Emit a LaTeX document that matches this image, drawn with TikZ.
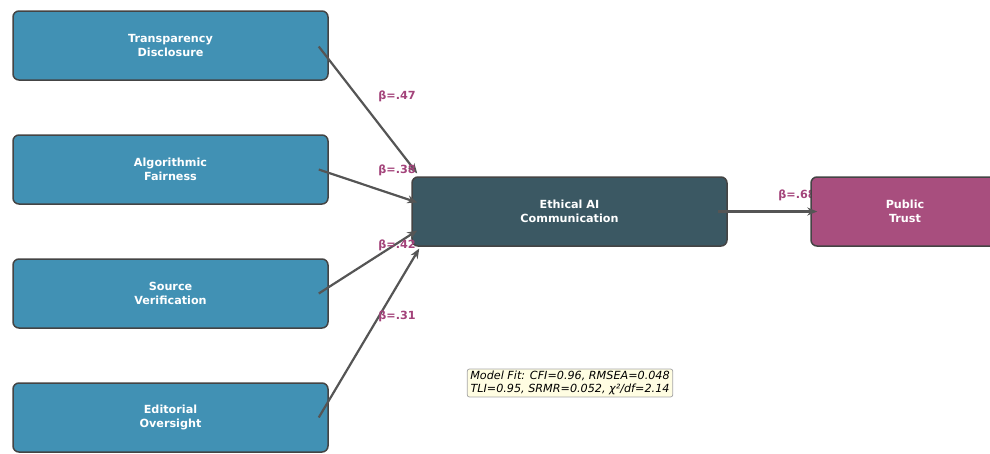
\documentclass[tikz,border=0pt]{standalone}
\usepackage{fontspec}
\setmainfont{DejaVu Sans}
\usetikzlibrary{calc,arrows.meta}
\definecolor{cblue}{HTML}{4191B4}
\definecolor{cdark}{HTML}{3B5863}
\definecolor{cmag}{HTML}{A84E7E}
\definecolor{clab}{HTML}{A3437A}
\definecolor{cedge}{HTML}{444444}
\definecolor{carrow}{HTML}{555555}
\definecolor{cfit}{HTML}{FFFDE2}
\tikzset{
  box/.style={draw=cedge, line width=1.5pt, rounded corners=6pt, minimum width=315pt, minimum height=69pt,
    align=center, text=white, font=\bfseries\fontsize{11.2}{14}\selectfont, inner sep=0pt},
  lab/.style={text=clab, font=\bfseries\fontsize{11.2}{12}\selectfont, inner sep=0pt},
  link/.style={draw=carrow, line width=2.2pt, -{Stealth[length=10pt,width=8pt]}},
  fit/.style={draw=gray!70, fill=cfit, rounded corners=2pt, line width=0.8pt, align=center,
    font=\itshape\fontsize{11.2}{13}\selectfont, inner xsep=3pt, inner ysep=2pt}
}
\begin{document}
\begin{tikzpicture}[x=1pt,y=-1pt]
\useasboundingbox (0,0) rectangle (990,453);
\node[box, fill=cblue] (td) at (170.5,45.5) {Transparency\\Disclosure};
\node[box, fill=cblue] (af) at (170.5,169.5) {Algorithmic\\Fairness};
\node[box, fill=cblue] (sv) at (170.5,293.5) {Source\\Verification};
\node[box, fill=cblue] (eo) at (170.5,417.5) {Editorial\\Oversight};
\node[box, fill=cdark] (eac) at (569.5,211.5) {Ethical AI\\Communication};
\node[lab] (l5) at (797,195) {β=.68};
\node[box, fill=cmag, minimum width=188pt] (pt) at (905,211.5) {Public\\Trust};
\coordinate (s1) at ($(td.east)+(-10,1)$);
\coordinate (s2) at ($(af.east)+(-10,0)$);
\coordinate (s3) at ($(sv.east)+(-10,0)$);
\coordinate (s4) at ($(eo.east)+(-10,0)$);
\coordinate (e1) at ($(eac.west)+(6,-38)$);
\coordinate (e2) at ($(eac.west)+(6,-9)$);
\coordinate (e3) at ($(eac.west)+(6,19)$);
\coordinate (e4) at ($(eac.west)+(8,37)$);
\draw[link] (s1) -- (e1);
\draw[link] (s2) -- (e2);
\draw[link] (s3) -- (e3);
\draw[link] (s4) -- (e4);
\draw[link] ($(eac.east)+(-10,0)$) -- ($(pt.west)+(7,0)$);
\node[lab] (l1) at (397,96) {β=.47};
\node[lab] (l2) at (397,170) {β=.38};
\node[lab] (l3) at (397,245) {β=.42};
\node[lab] (l4) at (397,316) {β=.31};
\node[fit] (mf) at (570,383) {Model Fit: CFI=0.96, RMSEA=0.048\\TLI=0.95, SRMR=0.052, χ²/df=2.14};
\end{tikzpicture}
\end{document}
